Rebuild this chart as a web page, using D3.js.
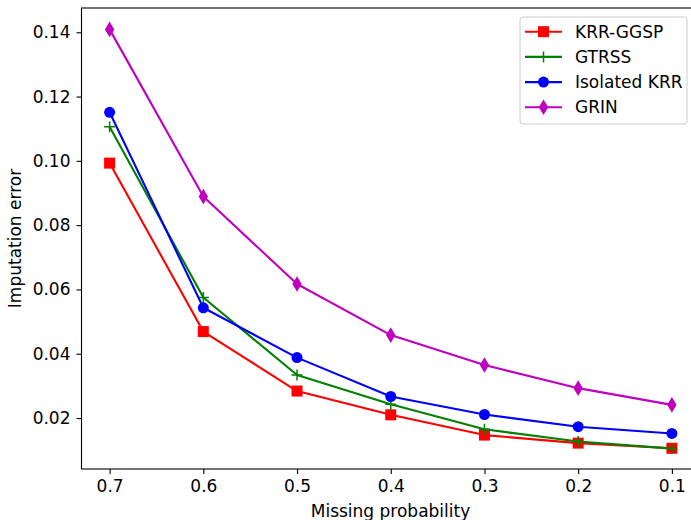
<!DOCTYPE html>
<html>
<head>
<meta charset="utf-8">
<script src="https://cdn.jsdelivr.net/npm/d3@7"></script>
<style>
  html, body { margin: 0; padding: 0; background: #fff; overflow: hidden; }
  text { font-family: "DejaVu Sans", sans-serif; fill: #000; }
</style>
</head>
<body>
<div id="chart"></div>
<script>
const width = 691;
const height = 520;

// data
const missingProb = [0.7, 0.6, 0.5, 0.4, 0.3, 0.2, 0.1];
const krrGgsp = [0.0993, 0.0469, 0.0284, 0.0210, 0.0147, 0.0122, 0.0106];
const gtrss = [0.1106, 0.0575, 0.0334, 0.0243, 0.0165, 0.0127, 0.0105];
const isolatedKrr = [0.1151, 0.0543, 0.0388, 0.0267, 0.0211, 0.0173, 0.0152];
const grin = [0.1409, 0.0889, 0.0617, 0.0458, 0.0365, 0.0293, 0.0241];
const xTicks = [0.7, 0.6, 0.5, 0.4, 0.3, 0.2, 0.1];
const yTicks = [0.02, 0.04, 0.06, 0.08, 0.10, 0.12, 0.14];

const series = [
  { name: "KRR-GGSP", values: krrGgsp, color: "#ff0000", marker: "square" },
  { name: "GTRSS", values: gtrss, color: "#008000", marker: "plus" },
  { name: "Isolated KRR", values: isolatedKrr, color: "#0000ff", marker: "circle" },
  { name: "GRIN", values: grin, color: "#bf00bf", marker: "diamond" }
];

const plot = { left: 81.5, right: 700, top: 8, bottom: 469 };
const fontSize = "17px";

const svg = d3.select("#chart").append("svg")
  .attr("width", width)
  .attr("height", height);

const x = d3.scaleLinear().domain([0.73, 0.07]).range([plot.left, plot.right]);
const y = d3.scaleLinear().domain([0.00415, 0.14755]).range([plot.bottom, plot.top]);

// axes
const xAxis = svg.append("g")
  .attr("transform", `translate(0,${plot.bottom})`)
  .call(d3.axisBottom(x).tickValues(xTicks).tickFormat(d3.format(".1f")).tickSize(5).tickPadding(6));
const yAxis = svg.append("g")
  .attr("transform", `translate(${plot.left},0)`)
  .call(d3.axisLeft(y).tickValues(yTicks).tickFormat(d3.format(".2f")).tickSize(5).tickPadding(6));

[xAxis, yAxis].forEach(a => {
  a.attr("font-size", null).attr("font-family", null);
  a.select(".domain").remove();
  a.selectAll(".tick line").attr("stroke", "#000").attr("stroke-width", 1.1);
  a.selectAll(".tick text").style("font-size", fontSize).style("font-family", "DejaVu Sans");
});

// frame
svg.append("rect")
  .attr("x", plot.left).attr("y", plot.top)
  .attr("width", plot.right - plot.left).attr("height", plot.bottom - plot.top)
  .attr("fill", "none").attr("stroke", "#000").attr("stroke-width", 1.1);

const line = d3.line().x((d, i) => x(missingProb[i])).y(d => y(d));

function drawMarker(g, type, color) {
  if (type === "square") {
    g.append("rect").attr("x", -5.5).attr("y", -5.5).attr("width", 11).attr("height", 11)
      .attr("fill", color);
  } else if (type === "circle") {
    g.append("circle").attr("r", 5.5).attr("fill", color);
  } else if (type === "diamond") {
    g.append("path").attr("d", "M0,-7.8L4.7,0L0,7.8L-4.7,0Z").attr("fill", color);
  } else if (type === "plus") {
    g.append("path").attr("d", "M-5.5,0H5.5M0,-5.5V5.5")
      .attr("stroke", color).attr("stroke-width", 1.5).attr("fill", "none");
  }
}

const lines = svg.append("g");
series.forEach(s => {
  const g = lines.append("g");
  g.append("path")
    .attr("d", line(s.values))
    .attr("fill", "none")
    .attr("stroke", s.color)
    .attr("stroke-width", 2.1)
    .attr("stroke-linejoin", "round");
  g.selectAll("g.m")
    .data(s.values)
    .join("g")
    .attr("class", "m")
    .attr("transform", (d, i) => `translate(${x(missingProb[i])},${y(d)})`)
    .each(function() { drawMarker(d3.select(this), s.marker, s.color); });
});

// axis labels
svg.append("text")
  .attr("x", 390.5)
  .attr("y", 517)
  .attr("text-anchor", "middle")
  .style("font-size", fontSize)
  .text("Missing probability");

svg.append("text")
  .attr("transform", `translate(21,${(plot.top + plot.bottom) / 2}) rotate(-90)`)
  .attr("text-anchor", "middle")
  .style("font-size", fontSize)
  .text("Imputation error");

// legend
const legend = svg.append("g").attr("transform", "translate(520,17)");
legend.append("rect")
  .attr("width", 167).attr("height", 107)
  .attr("rx", 3)
  .attr("fill", "#fff").attr("fill-opacity", 0.8)
  .attr("stroke", "#ccc").attr("stroke-width", 1);

series.forEach((s, i) => {
  const row = legend.append("g").attr("transform", `translate(0,${14.7 + i * 25.2})`);
  row.append("line")
    .attr("x1", 5).attr("x2", 42)
    .attr("stroke", s.color).attr("stroke-width", 2.1);
  drawMarker(row.append("g").attr("transform", "translate(23.5,0)"), s.marker, s.color);
  row.append("text")
    .attr("x", 55).attr("dy", "0.35em")
    .style("font-size", fontSize)
    .text(s.name);
});
</script>
</body>
</html>
